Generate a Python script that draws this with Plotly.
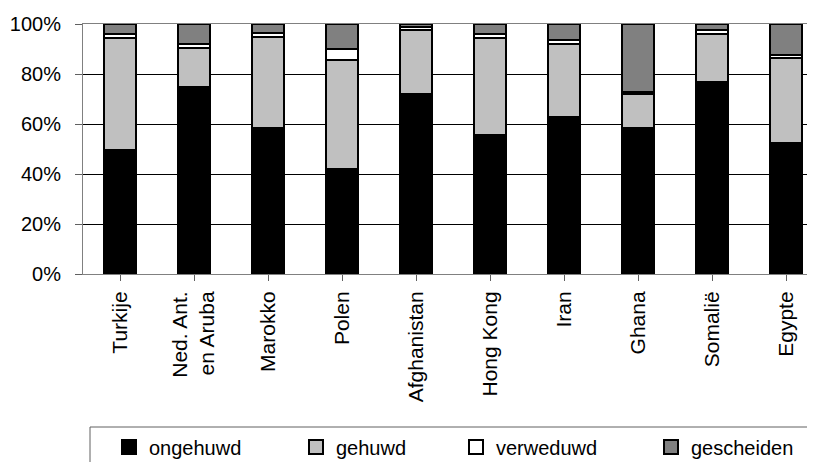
import plotly.graph_objects as go

categories = ["Turkije", "Ned. Ant.<br>en Aruba", "Marokko", "Polen", "Afghanistan",
              "Hong Kong", "Iran", "Ghana", "Somalië", "Egypte"]
ongehuwd   = [49.5, 75.0, 58.5, 42.0, 72.0, 55.5, 63.0, 58.5, 77.0, 52.5]
gehuwd     = [45.0, 15.5, 36.5, 43.5, 25.5, 39.0, 29.0, 13.5, 19.0, 34.0]
verweduwd  = [1.5, 1.5, 1.3, 4.5, 1.5, 1.5, 1.5, 1.0, 1.5, 1.0]
gescheiden = [4.0, 8.0, 3.7, 10.0, 1.0, 4.0, 6.5, 27.0, 2.5, 12.5]
series_names = ["ongehuwd", "gehuwd", "verweduwd", "gescheiden"]
series_vals = [ongehuwd, gehuwd, verweduwd, gescheiden]
series_colors = ["#000000", "#C0C0C0", "#FFFFFF", "#808080"]
y_ticks = [0, 20, 40, 60, 80, 100]
y_ticktext = ["0%", "20%", "40%", "60%", "80%", "100%"]

OFF = 8  # default page body margin
W, H = 815 - OFF, 462 - OFF
L, R, T = 83 - OFF, 0, 24 - OFF
B = H - (274 - OFF)
pw, ph = W - L - R, H - T - B

def px(xp):
    return (xp - OFF - L) / pw

def py(yp):
    return (H - B - (yp - OFF)) / ph

fig = go.Figure()
legend_ids = ["legend", "legend2", "legend3", "legend4"]
for name, vals, col in zip(series_names, series_vals, series_colors):
    fig.add_trace(go.Bar(
        x=list(range(len(categories))), y=vals, name=name,
        marker=dict(color=col, line=dict(color="#000000", width=2)),
        width=0.42, showlegend=False,
    ))
for name, col, lid in zip(series_names, series_colors, legend_ids):
    fig.add_trace(go.Scatter(
        x=[None], y=[None], mode="markers", name=name, legend=lid,
        marker=dict(symbol="square", size=14, color=col, line=dict(color="#000000", width=2)),
    ))

font = dict(family="Liberation Sans, Arial, sans-serif", size=20, color="#000000")
xfont = dict(family="Liberation Sans, Arial, sans-serif", size=21, color="#000000")
sym_x = [129, 316, 476, 671]
legend_y = py(447)
legends = {}
for lid, sx in zip(legend_ids, sym_x):
    legends[lid] = dict(x=px(sx - 20), y=legend_y, xanchor="left", yanchor="middle",
                        orientation="h", bgcolor="rgba(0,0,0,0)", borderwidth=0,
                        font=dict(family="Liberation Sans, Arial, sans-serif", size=20, color="#000000"))

fig.update_layout(
    width=W, height=H,
    margin=dict(l=L, r=R, t=T, b=B, pad=0, autoexpand=False),
    barmode="stack",
    plot_bgcolor="white", paper_bgcolor="white",
    font=font,
    showlegend=True,
    **legends,
    shapes=[dict(type="rect", xref="paper", yref="paper",
                 x0=px(90), x1=px(830), y0=py(427), y1=py(480),
                 line=dict(color="#606060", width=1), fillcolor="rgba(0,0,0,0)")],
)
fig.update_xaxes(
    tickmode="array", tickvals=list(range(len(categories))), ticktext=categories,
    range=[-0.5, -0.5 + pw / 74.0],
    tickangle=-90, tickson="boundaries", ticks="outside", ticklen=6, tickcolor="#606060",
    showline=True, linecolor="#808080", linewidth=1, mirror=True,
    showgrid=False, zeroline=False, ticklabelstandoff=2, automargin=False,
    tickfont=xfont, fixedrange=True,
)
fig.update_yaxes(
    range=[0, 100], tickmode="array", tickvals=y_ticks, ticktext=y_ticktext,
    ticks="outside", ticklen=7, tickcolor="#606060",
    showline=True, linecolor="#808080", linewidth=1,
    showgrid=True, gridcolor="#000000", gridwidth=1, zeroline=False,
    ticklabelstandoff=10, automargin=False, tickfont=font, fixedrange=True,
)
fig.write_html("out.html", config={"displayModeBar": False})
